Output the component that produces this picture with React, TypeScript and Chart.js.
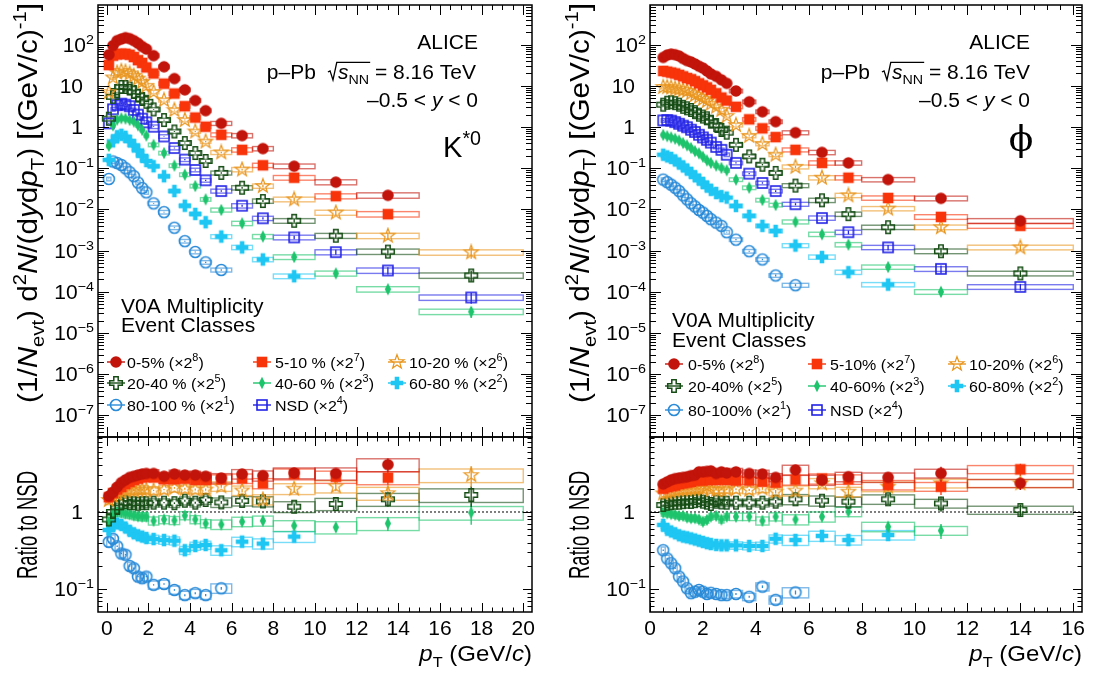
import React, { useEffect, useRef } from 'react';
import { Chart, registerables } from 'chart.js';
Chart.register(...registerables);

const W = 1093;
const H = 675;
const FONT = "'Liberation Sans', Arial, Helvetica, sans-serif";
const SY = 0.92;

// ---------------- K*0 data ----------------
const K_PT = [0.1, 0.3, 0.5, 0.7, 0.9, 1.1, 1.3, 1.5, 1.7, 1.9, 2.25, 2.75, 3.25, 3.75, 4.25, 4.75, 5.5, 6.5, 7.5, 9, 11, 13.5, 17.5];
const K_HALF = [0.1, 0.1, 0.1, 0.1, 0.1, 0.1, 0.1, 0.1, 0.1, 0.1, 0.25, 0.25, 0.25, 0.25, 0.25, 0.25, 0.5, 0.5, 0.5, 1, 1, 1.5, 2.5];
// spectra as drawn (already multiplied by the class scale factor)
const K_SPEC_0_5 = [57, 95, 125, 137, 148, 140, 125, 108, 90, 78, 54, 29, 15, 8, 4.4, 2.5, 1.23, 0.62, 0.3, 0.112, 0.046, 0.022, null];
const K_SPEC_5_10 = [32, 54, 58, 60, 60, 57, 50, 42, 36, 28, 20, 11.3, 6.5, 3.2, 1.7, 1.02, 0.65, 0.28, 0.118, 0.059, 0.021, 0.0077, null];
const K_SPEC_10_20 = [7, 16, 21, 23, 22, 20, 17.5, 15, 12.4, 10, 7.1, 4.5, 2.58, 1.48, 0.78, 0.445, 0.242, 0.093, 0.037, 0.0176, 0.0084, 0.0023, 0.00091];
const K_SPEC_20_40 = [1.6, 5.4, 7.5, 9.4, 9.4, 8.6, 7.1, 5.8, 4.8, 4.1, 2.68, 1.48, 0.78, 0.41, 0.234, 0.15, 0.077, 0.0337, 0.016, 0.0053, 0.0023, 0.00095, 0.00025];
const K_SPEC_40_60 = [0.35, 1.1, 1.5, 1.63, 1.6, 1.48, 1.35, 1.1, 0.85, 0.62, 0.37, 0.234, 0.116, 0.07, 0.037, 0.0176, 0.0097, 0.0046, 0.0022, 0.0007, 0.00028, 0.000116, 0.000033];
const K_SPEC_60_80 = [0.16, 0.45, 0.6, 0.65, 0.58, 0.46, 0.36, 0.27, 0.2, 0.15, 0.112, 0.064, 0.028, 0.0123, 0.0078, 0.0049, 0.0022, 0.0012, 0.00061, 0.00024, null, null, null];
const K_SPEC_80_100 = [0.055, 0.146, 0.134, 0.12, 0.1, 0.08, 0.064, 0.045, 0.033, 0.026, 0.014, 0.0086, 0.0036, 0.0017, 0.00093, 0.00052, 0.00034, null, null, null, null, null, null];
const K_SPEC_NSD = [1.23, 2.7, 3.4, 3.7, 3.5, 3.2, 2.6, 2.0, 1.6, 1.3, 1.02, 0.59, 0.31, 0.162, 0.091, 0.051, 0.028, 0.0123, 0.0061, 0.0021, 0.00092, 0.00033, 0.000073];
// ratios to NSD
const K_RATIO_0_5 = [1.6, 1.8, 2.1, 2.4, 2.6, 2.8, 2.9, 3.0, 3.1, 3.15, 3.15, 2.9, 3.1, 3.0, 3.0, 2.9, 2.75, 3.1, 2.95, 3.2, 3.15, 4.1, null];
const K_RATIO_5_10 = [1.55, 1.75, 1.95, 2.1, 2.3, 2.45, 2.6, 2.7, 2.8, 2.85, 2.8, 2.65, 2.65, 2.7, 2.6, 2.6, 2.65, 2.72, 2.35, 3.1, 2.86, 2.78, null];
const K_RATIO_10_20 = [1.43, 1.6, 1.7, 1.8, 1.9, 1.95, 1.9, 1.95, 1.95, 1.95, 1.9, 1.95, 2.05, 2.0, 1.95, 1.95, 2.15, 1.9, 1.45, 2.0, 2.15, 1.75, 3.0];
const K_RATIO_20_40 = [0.8, 1.0, 1.15, 1.3, 1.35, 1.3, 1.3, 1.28, 1.3, 1.3, 1.32, 1.32, 1.3, 1.4, 1.32, 1.43, 1.33, 1.39, 1.37, 1.17, 1.27, 1.46, 1.66];
const K_RATIO_40_60 = [0.75, 0.92, 1.0, 0.98, 0.95, 0.93, 0.9, 0.88, 0.87, 0.87, 0.77, 0.8, 0.78, 0.9, 0.8, 0.71, 0.69, 0.75, 0.77, 0.665, 0.634, 0.71, 0.98];
const K_RATIO_60_80 = [0.585, 0.66, 0.71, 0.68, 0.63, 0.57, 0.53, 0.5, 0.48, 0.46, 0.447, 0.434, 0.425, 0.32, 0.363, 0.374, 0.32, 0.413, 0.39, 0.48, null, null, null];
const K_RATIO_80_100 = [0.41, 0.45, 0.36, 0.29, 0.28, 0.2, 0.187, 0.146, 0.139, 0.146, 0.114, 0.117, 0.098, 0.084, 0.089, 0.084, 0.103, null, null, null, null, null, null];
const K_SYS_SPEC = [0.1, 0.1, 0.1, 0.1, 0.1, 0.1, 0.1, 0.1, 0.1, 0.1, 0.1, 0.1, 0.1, 0.1, 0.1, 0.1, 0.11, 0.12, 0.12, 0.13, 0.14, 0.15, 0.15];
const K_SYS_RATIO = [0.13, 0.12, 0.12, 0.12, 0.12, 0.12, 0.12, 0.12, 0.12, 0.12, 0.12, 0.12, 0.12, 0.12, 0.12, 0.12, 0.14, 0.14, 0.15, 0.16, 0.18, 0.19, 0.2];
const K_STAT = [0.02, 0.02, 0.02, 0.02, 0.02, 0.02, 0.02, 0.02, 0.02, 0.02, 0.02, 0.02, 0.025, 0.03, 0.03, 0.035, 0.04, 0.05, 0.06, 0.1, 0.14, 0.2, 0.3];

// ---------------- phi data ----------------
const PHI_PT = [0.5, 0.65, 0.8, 0.95, 1.1, 1.25, 1.4, 1.55, 1.7, 1.85, 2.0, 2.15, 2.3, 2.5, 2.7, 2.9, 3.25, 3.75, 4.25, 4.75, 5.5, 6.5, 7.5, 9, 11, 14];
const PHI_HALF = [0.075, 0.075, 0.075, 0.075, 0.075, 0.075, 0.075, 0.075, 0.075, 0.075, 0.075, 0.075, 0.075, 0.1, 0.1, 0.1, 0.25, 0.25, 0.25, 0.25, 0.5, 0.5, 0.5, 1, 1, 2];
const PHI_SPEC_0_5 = [49, 56, 59, 57, 53, 46, 41, 38, 34, 30, 27, 23, 19.5, 17, 14, 11.5, 7.5, 4.1, 2.35, 1.35, 0.73, 0.242, 0.135, 0.053, 0.0186, 0.0053];
const PHI_SPEC_5_10 = [23, 22, 21, 20, 18.5, 17, 15.5, 14.5, 13, 11.5, 10.3, 9.2, 8, 6.6, 5.2, 4.4, 3.1, 1.54, 0.93, 0.57, 0.28, 0.135, 0.059, 0.019, 0.0066, 0.004];
const PHI_SPEC_10_20 = [9.4, 9.3, 9.1, 8.6, 8.3, 7.9, 7.5, 6.6, 6.0, 5.4, 4.8, 4.3, 3.7, 3.1, 2.6, 1.85, 1.12, 0.61, 0.39, 0.213, 0.108, 0.059, 0.022, 0.0105, 0.0037, 0.0012];
const PHI_SPEC_20_40 = [3.5, 3.9, 4.0, 3.8, 3.5, 3.1, 2.85, 2.6, 2.3, 2.0, 1.8, 1.63, 1.35, 1.12, 0.85, 0.73, 0.37, 0.194, 0.122, 0.077, 0.038, 0.0167, 0.0077, 0.0037, 0.00097, 0.00028];
const PHI_SPEC_40_60 = [0.645, 0.6, 0.56, 0.52, 0.47, 0.41, 0.36, 0.31, 0.26, 0.23, 0.19, 0.155, 0.135, 0.116, 0.102, 0.089, 0.053, 0.0337, 0.0169, 0.0128, 0.005, 0.0025, 0.0014, 0.0004, 0.0001, null];
const PHI_SPEC_60_80 = [0.213, 0.194, 0.178, 0.155, 0.13, 0.111, 0.093, 0.077, 0.064, 0.053, 0.044, 0.036, 0.03, 0.025, 0.021, 0.0194, 0.0122, 0.007, 0.004, 0.003, 0.00133, 0.0007, 0.0003, 0.00015, null, null];
const PHI_SPEC_80_100 = [0.053, 0.046, 0.04, 0.0337, 0.0279, 0.022, 0.0176, 0.0141, 0.0118, 0.0097, 0.0084, 0.007, 0.0058, 0.0048, 0.004, 0.0028, 0.00185, 0.00097, 0.00061, 0.00025, 0.000145, null, null, null, null, null];
const PHI_SPEC_NSD = [1.45, 1.48, 1.43, 1.32, 1.2, 1.08, 0.99, 0.86, 0.76, 0.65, 0.56, 0.49, 0.42, 0.33, 0.28, 0.213, 0.135, 0.074, 0.044, 0.028, 0.0134, 0.0062, 0.0028, 0.0012, 0.00036, 0.000132];
const PHI_RATIO_0_5 = [2.3, 2.45, 2.6, 2.7, 2.75, 2.8, 2.85, 2.95, 3.0, 3.3, 3.3, 3.35, 3.4, 3.15, 3.3, 3.2, 3.3, 3.15, 3.1, 2.8, 3.5, 2.6, 2.86, 2.8, 3.16, 2.35];
const PHI_RATIO_5_10 = [2.0, 2.1, 2.15, 2.2, 2.3, 2.35, 2.4, 2.45, 2.55, 2.6, 2.55, 2.65, 2.6, 2.6, 2.65, 2.6, 2.55, 2.55, 2.47, 2.4, 2.62, 2.7, 2.65, 2.24, 2.13, 3.56];
const PHI_RATIO_10_20 = [1.74, 1.78, 1.83, 1.9, 1.93, 1.95, 1.97, 1.97, 2.0, 2.02, 2.0, 2.17, 1.95, 1.93, 1.95, 1.95, 1.97, 1.93, 2.02, 1.83, 1.89, 2.35, 1.83, 2.13, 2.35, 2.35];
const PHI_RATIO_20_40 = [1.23, 1.28, 1.3, 1.32, 1.32, 1.34, 1.36, 1.35, 1.38, 1.42, 1.36, 1.32, 1.27, 1.36, 1.33, 1.32, 1.32, 1.32, 1.32, 1.36, 1.46, 1.4, 1.36, 1.46, 1.29, 1.06];
const PHI_RATIO_40_60 = [0.98, 0.96, 0.94, 0.92, 0.89, 0.89, 0.85, 0.83, 0.83, 0.8, 0.75, 0.79, 0.87, 0.89, 0.8, 0.87, 0.87, 0.87, 0.77, 0.87, 0.8, 0.87, 1.01, 0.645, 0.574, null];
const PHI_RATIO_60_80 = [0.68, 0.59, 0.56, 0.53, 0.5, 0.48, 0.47, 0.455, 0.44, 0.425, 0.41, 0.395, 0.385, 0.375, 0.37, 0.37, 0.37, 0.363, 0.363, 0.45, 0.434, 0.49, 0.434, 0.504, null, null];
const PHI_RATIO_80_100 = [0.32, 0.25, 0.217, 0.187, 0.146, 0.126, 0.103, 0.089, 0.093, 0.098, 0.093, 0.087, 0.09, 0.087, 0.084, 0.084, 0.087, 0.08, 0.108, 0.073, 0.091, null, null, null, null, null];
const PHI_SYS_SPEC = [0.1, 0.1, 0.1, 0.1, 0.1, 0.1, 0.1, 0.1, 0.1, 0.1, 0.1, 0.1, 0.1, 0.1, 0.1, 0.1, 0.1, 0.1, 0.1, 0.1, 0.11, 0.12, 0.12, 0.12, 0.13, 0.13];
const PHI_SYS_RATIO = [0.1, 0.1, 0.1, 0.1, 0.1, 0.1, 0.1, 0.1, 0.1, 0.1, 0.1, 0.1, 0.1, 0.1, 0.1, 0.1, 0.11, 0.11, 0.12, 0.12, 0.15, 0.15, 0.14, 0.14, 0.13, 0.12];
const PHI_STAT = [0.02, 0.02, 0.02, 0.02, 0.02, 0.02, 0.02, 0.02, 0.02, 0.02, 0.02, 0.02, 0.02, 0.02, 0.02, 0.02, 0.03, 0.03, 0.04, 0.05, 0.06, 0.08, 0.1, 0.15, 0.22, 0.18];

// ---------------- labels / styles ----------------
const K_CLASS_LABELS = ['0-5%', '5-10 %', '10-20 %', '20-40 %', '40-60 %', '60-80 %', '80-100 %', 'NSD'];
const PHI_CLASS_LABELS = ['0-5%', '5-10%', '10-20%', '20-40%', '40-60%', '60-80%', '80-100%', 'NSD'];
const SCALE_EXP = ['8', '7', '6', '5', '3', '2', '1', '4'];
const COLORS = ['#c2140a', '#f7340a', '#e9961f', '#164d15', '#1ec46c', '#1ec6f3', '#2a8bd8', '#2222e6'];
const MARKERS = ['circle', 'square', 'ostar', 'ocross', 'diamond', 'cross', 'ocircle', 'osquare'];
const K_X_LABELS = [0, 2, 4, 6, 8, 10, 12, 14, 16, 18, 20];
const PHI_X_LABELS = [0, 2, 4, 6, 8, 10, 12, 14, 16];
const SPEC_DECADES = [2, 1, 0, -1, -2, -3, -4, -5, -6, -7];
const RATIO_DECADES = [0, -1];

type Seg = { t: string; k?: 'sup' | 'sub'; it?: boolean };

function rgba(hex: string, a: number) {
  const n = parseInt(hex.slice(1), 16);
  return `rgba(${(n >> 16) & 255},${(n >> 8) & 255},${n & 255},${a})`;
}

function segFont(s: Seg, size: number) {
  const sz = s.k ? size * 0.68 : size;
  return `${s.it ? 'italic ' : ''}${sz.toFixed(1)}px ${FONT}`;
}
function measureRich(ctx: CanvasRenderingContext2D, segs: Seg[], size: number) {
  let w = 0;
  for (const s of segs) {
    ctx.font = segFont(s, size);
    w += ctx.measureText(s.t).width;
  }
  return w;
}
function drawRich(ctx: CanvasRenderingContext2D, segs: Seg[], x: number, y: number, size: number, align: string, sx = 1, sy = SY) {
  const w = measureRich(ctx, segs, size);
  ctx.save();
  ctx.translate(x, y);
  ctx.scale(sx, sy);
  ctx.textBaseline = 'alphabetic';
  ctx.textAlign = 'left';
  let cx = align === 'left' ? 0 : align === 'right' ? -w : -w / 2;
  for (const s of segs) {
    ctx.font = segFont(s, size);
    const dy = s.k === 'sup' ? -size * 0.42 : s.k === 'sub' ? size * 0.27 : 0;
    ctx.fillText(s.t, cx, dy);
    cx += ctx.measureText(s.t).width;
  }
  ctx.restore();
}
function drawRotated(ctx: CanvasRenderingContext2D, segs: Seg[], x: number, yc: number, size: number, length: number) {
  const w = measureRich(ctx, segs, size);
  ctx.save();
  ctx.translate(x, yc);
  ctx.rotate(-Math.PI / 2);
  drawRich(ctx, segs, 0, 0, size, 'center', length / w, 1);
  ctx.restore();
}

function makeMarker(kind: string, color: string): HTMLCanvasElement {
  const S = 18;
  const c = document.createElement('canvas');
  c.width = S;
  c.height = S;
  const g = c.getContext('2d')!;
  g.translate(S / 2, S / 2);
  g.fillStyle = color;
  g.strokeStyle = color;
  const plus = (r: number, a: number) => {
    g.beginPath();
    g.moveTo(-a, -r); g.lineTo(a, -r); g.lineTo(a, -a); g.lineTo(r, -a); g.lineTo(r, a); g.lineTo(a, a);
    g.lineTo(a, r); g.lineTo(-a, r); g.lineTo(-a, a); g.lineTo(-r, a); g.lineTo(-r, -a); g.lineTo(-a, -a);
    g.closePath();
  };
  if (kind === 'circle') { g.beginPath(); g.arc(0, 0, 5.8, 0, Math.PI * 2); g.fill(); }
  else if (kind === 'square') { g.fillRect(-5.3, -5.3, 10.6, 10.6); }
  else if (kind === 'ostar') {
    g.lineWidth = 1.2;
    g.beginPath();
    for (let k = 0; k < 10; k++) {
      const r = k % 2 === 0 ? 7.4 : 3.0;
      const a = -Math.PI / 2 + (k * Math.PI) / 5;
      const px = r * Math.cos(a), py = r * Math.sin(a);
      if (k === 0) g.moveTo(px, py); else g.lineTo(px, py);
    }
    g.closePath();
    g.stroke();
  }
  else if (kind === 'ocross') { g.lineWidth = 1.5; plus(6.3, 2.2); g.stroke(); }
  else if (kind === 'diamond') { g.beginPath(); g.moveTo(0, -6.2); g.lineTo(3.1, 0); g.lineTo(0, 6.2); g.lineTo(-3.1, 0); g.closePath(); g.fill(); }
  else if (kind === 'cross') { plus(6.3, 2.3); g.fill(); }
  else if (kind === 'ocircle') { g.lineWidth = 1.6; g.beginPath(); g.arc(0, 0, 5.5, 0, Math.PI * 2); g.stroke(); }
  else if (kind === 'osquare') { g.lineWidth = 1.6; g.strokeRect(-5, -5, 10, 10); }
  return c;
}

const Y_TITLE: Seg[] = [
  { t: '(1/' }, { t: 'N', it: true }, { t: 'evt', k: 'sub' }, { t: ') d' }, { t: '2', k: 'sup' }, { t: 'N', it: true },
  { t: '/(d' }, { t: 'y', it: true }, { t: 'd' }, { t: 'p', it: true }, { t: 'T', k: 'sub' }, { t: ') [(GeV/c)' },
  { t: '-1', k: 'sup' }, { t: ']' },
];
const X_TITLE: Seg[] = [{ t: 'p', it: true }, { t: 'T', k: 'sub' }, { t: ' (GeV/' }, { t: 'c', it: true }, { t: ')' }];

type Panel = {
  id: string; isRatio: boolean; side: 'K' | 'PHI';
  L: number; R: number; T: number; B: number;
  xmin: number; xmax: number; ymin: number; ymax: number;
  pt: number[]; half: number[]; series: (number | null)[][]; sys: number[]; stat: number[];
};

const LEFT = { L: 98, R: 532, xmin: -0.42, xmax: 20.42 };
const RIGHT = { L: 650, R: 1082, xmin: 0, xmax: 16.33 };
const TOP = { T: 5, B: 437, ymin: 3.49e-8, ymax: 867 };
const BOT = { T: 437, B: 612, ymin: 0.0508, ymax: 9.34 };

const PANELS: Panel[] = [
  { id: 'kt', isRatio: false, side: 'K', ...LEFT, ...TOP, pt: K_PT, half: K_HALF, sys: K_SYS_SPEC, stat: K_STAT,
    series: [K_SPEC_0_5, K_SPEC_5_10, K_SPEC_10_20, K_SPEC_20_40, K_SPEC_40_60, K_SPEC_60_80, K_SPEC_80_100, K_SPEC_NSD] },
  { id: 'kb', isRatio: true, side: 'K', ...LEFT, ...BOT, pt: K_PT, half: K_HALF, sys: K_SYS_RATIO, stat: K_STAT,
    series: [K_RATIO_0_5, K_RATIO_5_10, K_RATIO_10_20, K_RATIO_20_40, K_RATIO_40_60, K_RATIO_60_80, K_RATIO_80_100] },
  { id: 'pt', isRatio: false, side: 'PHI', ...RIGHT, ...TOP, pt: PHI_PT, half: PHI_HALF, sys: PHI_SYS_SPEC, stat: PHI_STAT,
    series: [PHI_SPEC_0_5, PHI_SPEC_5_10, PHI_SPEC_10_20, PHI_SPEC_20_40, PHI_SPEC_40_60, PHI_SPEC_60_80, PHI_SPEC_80_100, PHI_SPEC_NSD] },
  { id: 'pb', isRatio: true, side: 'PHI', ...RIGHT, ...BOT, pt: PHI_PT, half: PHI_HALF, sys: PHI_SYS_RATIO, stat: PHI_STAT,
    series: [PHI_RATIO_0_5, PHI_RATIO_5_10, PHI_RATIO_10_20, PHI_RATIO_20_40, PHI_RATIO_40_60, PHI_RATIO_60_80, PHI_RATIO_80_100] },
];

function decadeLabel(d: number): Seg[] {
  if (d === 0) return [{ t: '1' }];
  if (d === 1) return [{ t: '10' }];
  return [{ t: '10' }, { t: d < 0 ? '\u2212' + String(-d) : String(d), k: 'sup' }];
}

function panelPlugin(p: Panel, imgs: HTMLCanvasElement[]) {
  return {
    id: 'panel_' + p.id,
    beforeDatasetsDraw(chart: any) {
      const ctx: CanvasRenderingContext2D = chart.ctx;
      const xs = chart.scales.x, ys = chart.scales.y;
      ctx.save();
      ctx.beginPath();
      ctx.rect(p.L, p.T, p.R - p.L, p.B - p.T);
      ctx.clip();
      if (p.isRatio) {
        const y1 = ys.getPixelForValue(1);
        ctx.strokeStyle = '#000';
        ctx.lineWidth = 1;
        ctx.setLineDash([2, 2]);
        ctx.beginPath();
        ctx.moveTo(p.L, y1);
        ctx.lineTo(p.R, y1);
        ctx.stroke();
        ctx.setLineDash([]);
      }
      for (let si = p.series.length - 1; si >= 0; si--) {
        const vals = p.series[si];
        const col = COLORS[si];
        vals.forEach((v, i) => {
          if (v == null) return;
          const x1 = xs.getPixelForValue(p.pt[i] - p.half[i]);
          const x2 = xs.getPixelForValue(p.pt[i] + p.half[i]);
          const yTop = ys.getPixelForValue(v * (1 + p.sys[i]));
          const yBot = ys.getPixelForValue(v * (1 - p.sys[i]));
          ctx.strokeStyle = rgba(col, 0.6);
          ctx.lineWidth = 1.4;
          ctx.strokeRect(x1, yTop, x2 - x1, yBot - yTop);
          const xc = xs.getPixelForValue(p.pt[i]);
          ctx.strokeStyle = col;
          ctx.lineWidth = 1.3;
          ctx.beginPath();
          ctx.moveTo(xc, ys.getPixelForValue(v * (1 + p.stat[i])));
          ctx.lineTo(xc, ys.getPixelForValue(v * (1 - p.stat[i])));
          ctx.stroke();
        });
      }
      ctx.restore();
    },
    afterDraw(chart: any) {
      const ctx: CanvasRenderingContext2D = chart.ctx;
      const xs = chart.scales.x, ys = chart.scales.y;
      ctx.save();
      ctx.strokeStyle = '#000';
      ctx.fillStyle = '#000';
      // frame
      ctx.lineWidth = 1.5;
      ctx.strokeRect(p.L, p.T, p.R - p.L, p.B - p.T);
      // x ticks
      ctx.lineWidth = 1;
      const xMaj = p.isRatio ? 9 : 10, xMin = p.isRatio ? 4.5 : 5;
      ctx.beginPath();
      for (let v = 0; v <= p.xmax + 1e-9; v += 0.5) {
        const x = Math.round(xs.getPixelForValue(v)) + 0.5;
        const len = Math.abs(v / 2 - Math.round(v / 2)) < 1e-6 ? xMaj : xMin;
        ctx.moveTo(x, p.B); ctx.lineTo(x, p.B - len);
        ctx.moveTo(x, p.T); ctx.lineTo(x, p.T + len);
      }
      ctx.stroke();
      // y ticks (log)
      const yMaj = p.isRatio ? 9 : 11, yMin = p.isRatio ? 4.5 : 6;
      ctx.beginPath();
      for (let d = -9; d <= 3; d++) {
        for (let m = 1; m <= 9; m++) {
          const v = m * Math.pow(10, d);
          if (v < p.ymin || v > p.ymax) continue;
          const y = Math.round(ys.getPixelForValue(v)) + 0.5;
          const len = m === 1 ? yMaj : yMin;
          ctx.moveTo(p.L, y); ctx.lineTo(p.L + len, y);
          ctx.moveTo(p.R, y); ctx.lineTo(p.R - len, y);
        }
      }
      ctx.stroke();
      // y tick labels
      const decs = p.isRatio ? RATIO_DECADES : SPEC_DECADES;
      for (const d of decs) {
        const y = ys.getPixelForValue(Math.pow(10, d));
        const segs = decadeLabel(d);
        const rx = segs.length > 1 ? p.L - 4 : p.L - 15;
        drawRich(ctx, segs, rx, y + 7, 21, 'right');
      }
      if (!p.isRatio) {
        drawRotated(ctx, Y_TITLE, p.L - 61, 203, 27, 400);
        drawPanelText(ctx, p, imgs);
      } else {
        drawRotated(ctx, [{ t: 'Ratio to NSD' }], p.L - 61, 525, 29, 108);
        const labs = p.side === 'K' ? K_X_LABELS : PHI_X_LABELS;
        for (const v of labs) {
          drawRich(ctx, [{ t: String(v) }], xs.getPixelForValue(v), 635, 21, 'center');
        }
        drawRich(ctx, X_TITLE, p.R, 661, 24, 'right');
      }
      ctx.restore();
    },
  };
}

function drawPanelText(ctx: CanvasRenderingContext2D, p: Panel, imgs: HTMLCanvasElement[]) {
  const isK = p.side === 'K';
  const rx = isK ? 478 : 1030;
  drawRich(ctx, [{ t: 'ALICE' }], rx, 49, 21, 'right');
  // p-Pb sqrt(s_NN) line
  {
    const size = 21;
    const right = isK ? 476 : 1030;
    const a: Seg[] = [{ t: 'p\u2013Pb  ' }];
    const b: Seg[] = [{ t: 's', it: true }, { t: 'NN', k: 'sub' }];
    const c: Seg[] = [{ t: ' = 8.16 TeV' }];
    const wa = measureRich(ctx, a, size), wb = measureRich(ctx, b, size), wc = measureRich(ctx, c, size);
    const wr = size * 0.5;
    const total = wa + wr + wb + wc;
    const x0 = right - total;
    const base = 79;
    drawRich(ctx, a, x0, base, size, 'left');
    const rxs = x0 + wa;
    ctx.save();
    ctx.translate(0, base);
    ctx.scale(1, SY);
    ctx.lineWidth = 1.3;
    ctx.strokeStyle = '#000';
    ctx.beginPath();
    ctx.moveTo(rxs + 0.02 * size, -0.36 * size);
    ctx.lineTo(rxs + 0.12 * size, -0.42 * size);
    ctx.lineTo(rxs + 0.26 * size, 0.05 * size);
    ctx.lineTo(rxs + 0.44 * size, -0.86 * size);
    ctx.lineTo(rxs + wr + wb + 1, -0.86 * size);
    ctx.stroke();
    ctx.restore();
    drawRich(ctx, b, rxs + wr, base, size, 'left');
    drawRich(ctx, c, rxs + wr + wb, base, size, 'left');
  }
  drawRich(ctx, [{ t: '\u20130.5 < ' }, { t: 'y', it: true }, { t: ' < 0' }], rx, 107, 21, 'right');
  if (isK) {
    drawRich(ctx, [{ t: 'K' }, { t: '*0', k: 'sup' }], 481, 157, 29, 'right', 1, 1);
  } else {
    ctx.save();
    ctx.font = `36px 'DejaVu Serif', 'Liberation Serif', serif`;
    ctx.textAlign = 'center';
    ctx.textBaseline = 'alphabetic';
    ctx.fillText('\u03D5', 1021, 151);
    ctx.restore();
  }
  // event class text
  const vx = isK ? 121 : 672;
  const vb1 = isK ? 313 : 326.5;
  const vb2 = isK ? 331.5 : 346.5;
  drawRich(ctx, [{ t: 'V0A Multiplicity' }], vx, vb1, 21, 'left');
  drawRich(ctx, [{ t: 'Event Classes' }], vx, vb2, 21, 'left');
  // legend
  const rows = isK ? [362, 383, 405] : [364, 386, 410];
  const mx = isK ? [116, 262, 397] : [674, 817, 957];
  const tx = isK ? [127, 275, 409] : [688, 830, 969];
  const labels = isK ? K_CLASS_LABELS : PHI_CLASS_LABELS;
  for (let i = 0; i < 8; i++) {
    const r = Math.floor(i / 3), c = i % 3;
    const y = rows[r];
    ctx.strokeStyle = COLORS[i];
    ctx.lineWidth = 1.4;
    ctx.beginPath();
    ctx.moveTo(mx[c] - 9, y);
    ctx.lineTo(mx[c] + 9, y);
    ctx.stroke();
    const im = imgs[i];
    ctx.drawImage(im, mx[c] - im.width / 2, y - im.height / 2);
    drawRich(ctx, [{ t: labels[i] + ' (\u00D72' }, { t: SCALE_EXP[i], k: 'sup' }, { t: ')' }], tx[c], y + 5.5, 16, 'left');
  }
}

function buildConfig(p: Panel): any {
  const imgs = COLORS.map((c, i) => makeMarker(MARKERS[i], c));
  return {
    type: 'line',
    data: {
      datasets: p.series.map((vals, si) => ({
        label: String(si),
        data: p.pt.map((x, i) => (vals[i] == null ? null : { x, y: vals[i] })).filter((d) => d !== null),
        showLine: false,
        pointStyle: imgs[si],
        pointRadius: 5,
        pointHoverRadius: 5,
        borderColor: COLORS[si],
        backgroundColor: COLORS[si],
      })),
    },
    options: {
      animation: false,
      responsive: false,
      maintainAspectRatio: false,
      events: [],
      layout: { padding: { left: p.L, top: p.T, right: W - p.R, bottom: H - p.B } },
      plugins: { legend: { display: false }, tooltip: { enabled: false }, title: { display: false } },
      scales: {
        x: { type: 'linear', min: p.xmin, max: p.xmax, display: false },
        y: { type: 'logarithmic', min: p.ymin, max: p.ymax, display: false },
      },
    },
    plugins: [panelPlugin(p, imgs)],
  };
}

export default function App() {
  const r0 = useRef<HTMLCanvasElement>(null);
  const r1 = useRef<HTMLCanvasElement>(null);
  const r2 = useRef<HTMLCanvasElement>(null);
  const r3 = useRef<HTMLCanvasElement>(null);
  useEffect(() => {
    const refs = [r0, r1, r2, r3];
    const charts = PANELS.map((p, i) => new Chart(refs[i].current as HTMLCanvasElement, buildConfig(p)));
    return () => charts.forEach((c) => c.destroy());
  }, []);
  const st: React.CSSProperties = { position: 'absolute', left: 0, top: 0, width: W, height: H };
  return (
    <div style={{ position: 'absolute', left: 0, top: 0, width: W, height: H, background: '#fff' }}>
      <canvas ref={r0} width={W} height={H} style={st} />
      <canvas ref={r1} width={W} height={H} style={st} />
      <canvas ref={r2} width={W} height={H} style={st} />
      <canvas ref={r3} width={W} height={H} style={st} />
    </div>
  );
}
